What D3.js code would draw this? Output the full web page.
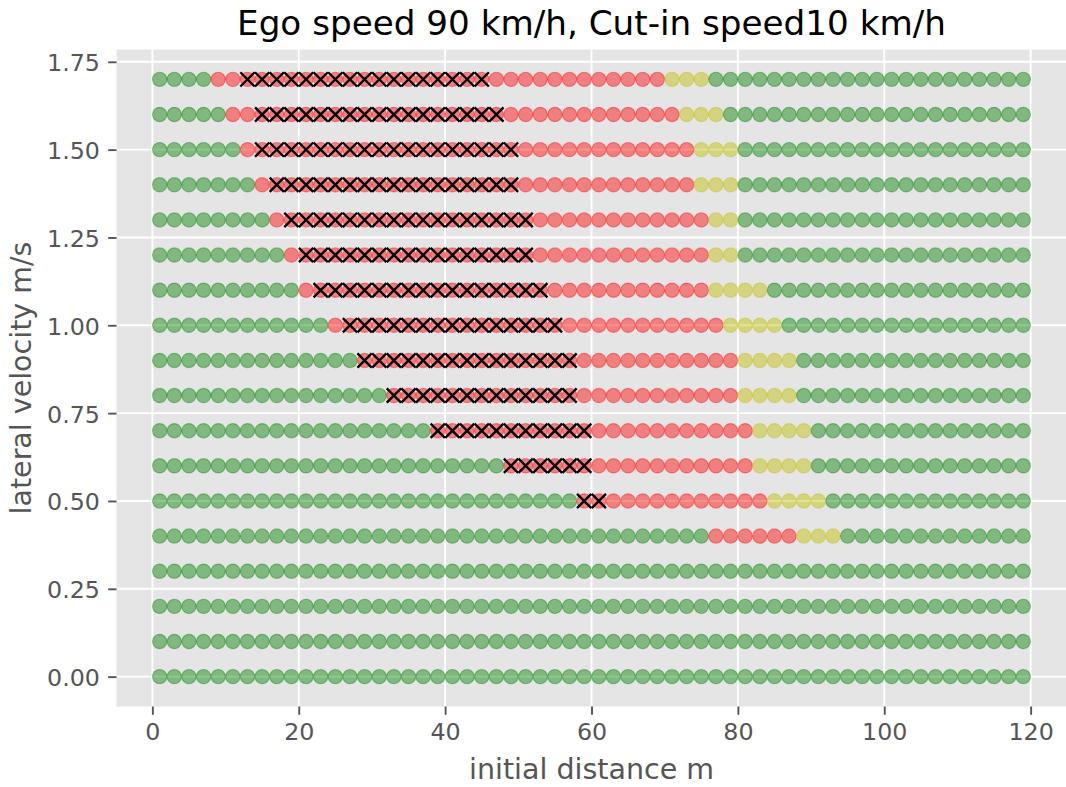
<!DOCTYPE html>
<html>
<head>
<meta charset="utf-8">
<script src="https://cdn.jsdelivr.net/npm/d3@7/dist/d3.min.js"></script>
<style>
  body { margin: 0; background: #fff; }
  text { font-family: "DejaVu Sans", sans-serif; }
</style>
</head>
<body>
<div id="chart"></div>
<script>
/***********************************************/
//                 CHART DATA                  //
/***********************************************/

const lateralVelocity = [0.0, 0.1, 0.2, 0.3, 0.4, 0.5, 0.6, 0.7, 0.8,
                         0.9, 1.0, 1.1, 1.2, 1.3, 1.4, 1.5, 1.6, 1.7];

const initialDistance = [1, 3, 5, 7, 9, 11, 13, 15, 17, 19, 21, 23, 25, 27, 29,
                         31, 33, 35, 37, 39, 41, 43, 45, 47, 49, 51, 53, 55, 57, 59,
                         61, 63, 65, 67, 69, 71, 73, 75, 77, 79, 81, 83, 85, 87, 89,
                         91, 93, 95, 97, 99, 101, 103, 105, 107, 109, 111, 113, 115, 117, 119];

// one entry per lateral velocity row (null = whole row green)
const redFrom   = [null, null, null, null, 77, 59, 49, 39, 33, 29, 25, 21, 19, 17, 15, 13, 11, 9];
const crossFrom = [null, null, null, null, null, 59, 49, 39, 33, 29, 27, 23, 21, 19, 17, 15, 15, 13];
const crossTo   = [null, null, null, null, null, 61, 59, 59, 57, 57, 55, 53, 51, 51, 49, 49, 47, 45];
const redTo     = [null, null, null, null, 87, 83, 81, 81, 79, 79, 77, 75, 75, 75, 73, 73, 71, 69];
const yellowTo  = [null, null, null, null, 93, 91, 89, 89, 87, 87, 85, 83, 79, 79, 79, 79, 77, 75];

const xTicks = [0, 20, 40, 60, 80, 100, 120];
const yTicks = [0.00, 0.25, 0.50, 0.75, 1.00, 1.25, 1.50, 1.75];

const titleText = "Ego speed 90 km/h, Cut-in speed10 km/h";
const xLabel = "initial distance m";
const yLabel = "lateral velocity m/s";

/***********************************************/
//                  LAYOUT                     //
/***********************************************/

const width = 1066,
    height = 787;

const plot = {left: 116.5, right: 1066.5, top: 49.5, bottom: 706.5};

const colors = {green: "#008000", red: "#ff0000", yellow: "#bfbf00"};

const svg = d3.select("#chart")
  .append("svg")
    .attr("width", width)
    .attr("height", height);

const x = d3.scaleLinear()
    .domain([-4.9, 124.9])
    .range([plot.left, plot.right]);

const y = d3.scaleLinear()
    .domain([-0.085, 1.785])
    .range([plot.bottom, plot.top]);

// build the cells from the row boundaries
const cells = [];
lateralVelocity.forEach(function(v, i) {
  initialDistance.forEach(function(d) {
    let status = "green";
    if (redFrom[i] !== null && d >= redFrom[i] && d <= redTo[i]) status = "red";
    else if (redTo[i] !== null && d > redTo[i] && d <= yellowTo[i]) status = "yellow";
    const crossed = crossFrom[i] !== null && d >= crossFrom[i] && d <= crossTo[i];
    cells.push({d: d, v: v, status: status, crossed: crossed});
  });
});

// background
svg.append("rect")
    .attr("x", plot.left)
    .attr("y", plot.top)
    .attr("width", plot.right - plot.left)
    .attr("height", plot.bottom - plot.top)
    .attr("fill", "#e5e5e5");

// grid
svg.append("g")
  .selectAll("line")
  .data(xTicks)
  .join("line")
    .attr("x1", d => x(d)).attr("x2", d => x(d))
    .attr("y1", plot.top).attr("y2", plot.bottom)
    .attr("stroke", "#fff")
    .attr("stroke-width", 1.9);

svg.append("g")
  .selectAll("line")
  .data(yTicks)
  .join("line")
    .attr("x1", plot.left).attr("x2", plot.right)
    .attr("y1", d => y(d)).attr("y2", d => y(d))
    .attr("stroke", "#fff")
    .attr("stroke-width", 1.9);

// circles
svg.append("g")
  .selectAll("circle")
  .data(cells)
  .join("circle")
    .attr("cx", d => x(d.d))
    .attr("cy", d => y(d.v))
    .attr("r", 7.13)
    .attr("fill", d => colors[d.status])
    .attr("fill-opacity", 0.44)
    .attr("stroke", d => colors[d.status])
    .attr("stroke-opacity", 0.4)
    .attr("stroke-width", 1.2);

// crosses
const h = 7.13;
svg.append("g")
  .selectAll("path")
  .data(cells.filter(d => d.crossed))
  .join("path")
    .attr("d", function(d) {
      const cx = x(d.d), cy = y(d.v);
      return `M${cx-h},${cy-h}L${cx+h},${cy+h}M${cx-h},${cy+h}L${cx+h},${cy-h}`;
    })
    .attr("stroke", "#000")
    .attr("stroke-width", 2.4)
    .attr("fill", "none");

// axes
const xAxis = svg.append("g")
    .attr("transform", `translate(0, ${plot.bottom})`)
    .call(d3.axisBottom(x).tickValues(xTicks).tickFormat(d3.format("d")).tickSize(8.3).tickPadding(8.3));

const yAxis = svg.append("g")
    .attr("transform", `translate(${plot.left}, 0)`)
    .call(d3.axisLeft(y).tickValues(yTicks).tickFormat(d3.format(".2f")).tickSize(8.3).tickPadding(8.3));

[xAxis, yAxis].forEach(function(a) {
  a.select(".domain").remove();
  a.selectAll(".tick line").attr("stroke", "#555").attr("stroke-width", 1.9);
  a.selectAll(".tick text")
      .attr("fill", "#555")
      .style("font-size", "23.75px")
      .style("font-family", "DejaVu Sans");
});
yAxis.selectAll(".tick text").attr("dy", "0.38em");

// labels
svg.append("text")
    .attr("x", (plot.left + plot.right) / 2)
    .attr("y", 35)
    .attr("text-anchor", "middle")
    .style("font-size", "34.2px")
    .attr("fill", "#000")
    .text(titleText);

svg.append("text")
    .attr("x", (plot.left + plot.right) / 2)
    .attr("y", 778.5)
    .attr("text-anchor", "middle")
    .style("font-size", "28.5px")
    .attr("fill", "#555")
    .text(xLabel);

svg.append("text")
    .attr("transform", `translate(30.6, ${(plot.top + plot.bottom) / 2}) rotate(-90)`)
    .attr("text-anchor", "middle")
    .style("font-size", "28.5px")
    .attr("fill", "#555")
    .text(yLabel);
</script>
</body>
</html>
